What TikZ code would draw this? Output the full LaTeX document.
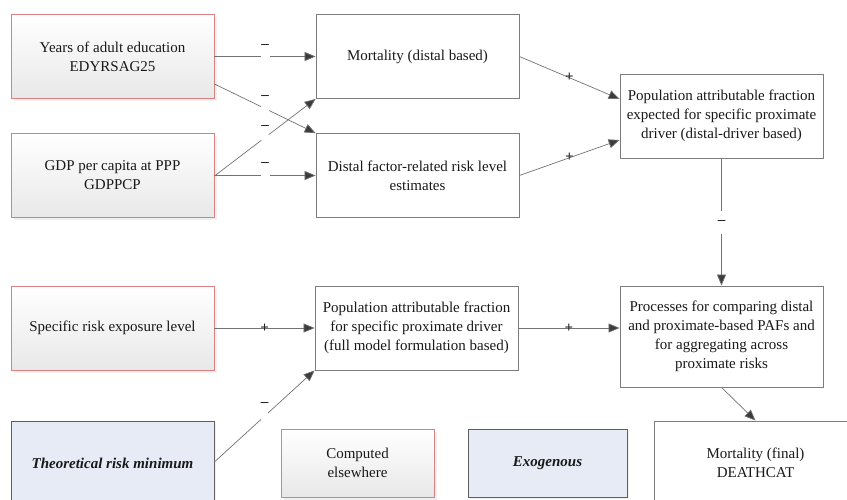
\documentclass[tikz,border=0pt]{standalone}
\usepackage{fontspec}
\setmainfont{Liberation Serif}
\newfontfamily\tnr{Liberation Serif}
\usetikzlibrary{arrows.meta,shadows,calc}

\definecolor{rededge}{RGB}{214,130,130}
\definecolor{greyedge}{RGB}{125,125,125}
\definecolor{darkedge}{RGB}{95,95,95}
\definecolor{exofill}{RGB}{230,235,245}
\definecolor{linegrey}{RGB}{115,115,115}
\definecolor{tipgrey}{RGB}{60,60,60}

\tikzset{
  basebox/.style={rectangle, align=center, inner sep=2pt,
    font=\tnr\fontsize{15}{19}\selectfont, text=black!90,
    minimum width=203pt, minimum height=84pt},
  computed/.style={basebox, draw=rededge, line width=0.9pt,
    top color=white, bottom color=black!9,
    drop shadow={shadow xshift=2.5pt, shadow yshift=-2.5pt, fill=black!12}},
  process/.style={basebox, draw=greyedge, line width=0.8pt, fill=white},
  exogenous/.style={basebox, draw=darkedge, line width=0.8pt, fill=exofill,
    font=\tnr\fontsize{15}{19}\selectfont\bfseries\itshape,
    drop shadow={shadow xshift=2pt, shadow yshift=-2pt, fill=black!10}},
  link/.style={draw=linegrey, line width=0.7pt,
    -{Triangle[length=11pt, width=9pt, fill=tipgrey]}},
  gap/.style={fill=white, inner sep=0pt, minimum width=9pt, minimum height=4pt},
  sign/.style={inner sep=0pt, font=\tnr\fontsize{15}{15}\selectfont\bfseries, text=black!85},
  vgap/.style={fill=white, inner sep=0pt, minimum width=6pt, minimum height=23pt,
    font=\tnr\fontsize{15}{15}\selectfont\bfseries, text=black!85}
}

\begin{document}
\begin{tikzpicture}[x=1pt, y=-1pt]
\useasboundingbox (0,0) rectangle (847,499);
\clip (0,0) rectangle (847,499);
\fill[white] (0,0) rectangle (847,499);

% distal drivers
\node[computed] (edu) at (112.5,56.5) {Years of adult education\\EDYRSAG25};
\node[computed] (gdp) at (112.5,175.5) {GDP per capita at PPP\\GDPPCP};

% distal-based computations
\node[process] (mortd) at (417.5,56.5) {Mortality (distal based)};
\node[process] (distal) at (417.5,175.5) {Distal factor-related risk level\\estimates};
\node[process] (pafd) at (721.5,116) {Population attributable fraction\\expected for specific proximate\\driver (distal-driver based)};

% proximate branch
\node[computed] (expo) at (112.5,328) {Specific risk exposure level};
\node[process] (paff) at (416.5,328) {Population attributable fraction\\for specific proximate driver\\(full model formulation based)};
\node[process, minimum height=101pt] (proc) at (721.5,336.5) {Processes for comparing distal\\and proximate-based PAFs and\\for aggregating across\\proximate risks};

% bottom row
\node[exogenous] (theo) at (112.5,463) {Theoretical risk minimum};
\node[computed, minimum width=153pt, minimum height=68pt] (legc) at (357.5,463) {Computed\\elsewhere};
\node[exogenous, minimum width=159pt, minimum height=68pt] (lege) at (547.5,463) {Exogenous};
\node[process] (mortf) at (755.5,463) {Mortality (final)\\DEATHCAT};

% connectors
\path[link] (edu.east) -- node[gap]{} node[sign, yshift=10pt]{–} (mortd.west);
\path[link] ([yshift=-27.5pt]edu.east) -- node[gap, rotate=-26]{} node[sign, yshift=11pt]{–} (distal.north west);
\path[link] ([yshift=-0.5pt]gdp.east) -- node[gap, rotate=37]{} node[sign, yshift=10pt]{–} (mortd.south west);
\path[link] (gdp.east) -- node[gap]{} node[sign, yshift=11pt]{–} (distal.west);

\path[link] (mortd.east) -- node[sign]{+} ([yshift=17pt]pafd.west);
\path[link] (distal.east) -- node[sign]{+} ([yshift=-24pt]pafd.west);
\path[link] (pafd.south) -- node[vgap]{–} (proc.north);

\path[link] (expo.east) -- node[sign]{+} (paff.west);
\path[link] ([yshift=1pt]theo.east) -- node[gap, rotate=42]{} node[sign, yshift=12pt]{–} (paff.south west);
\path[link] (paff.east) -- node[sign]{+} ([yshift=8.5pt]proc.west);
\path[link] (proc.south) -- (mortf.north);
\end{tikzpicture}
\end{document}
